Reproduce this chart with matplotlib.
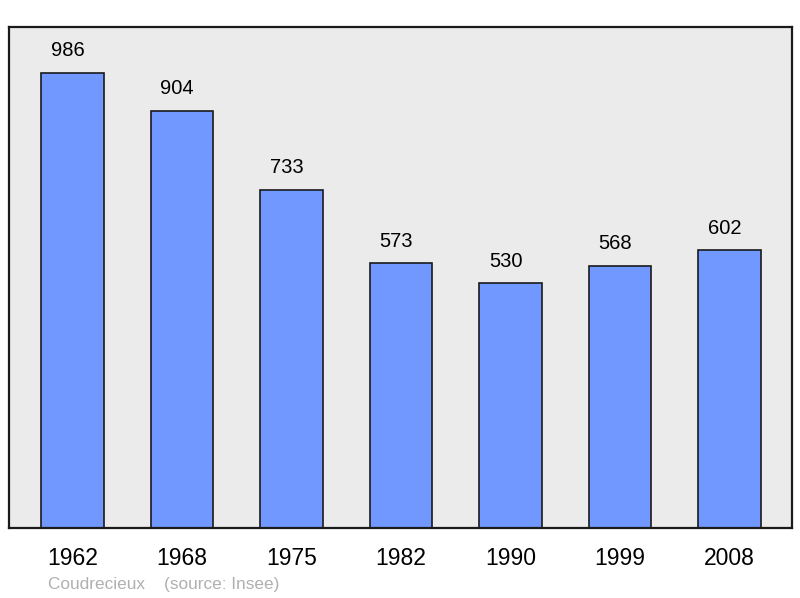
import matplotlib
matplotlib.use("Agg")
import matplotlib.pyplot as plt

years = ['1962', '1968', '1975', '1982', '1990', '1999', '2008']
population = [986, 904, 733, 573, 530, 568, 602]

fig = plt.figure(figsize=(8, 5.98), dpi=100)
ax = fig.add_axes([0.01125, 0.117, 0.97875, 0.8378])
ax.set_facecolor('#ebebeb')

x = list(range(len(years)))
ax.bar(x, population, width=0.57, color='#7098ff', edgecolor='#1a1a1a', linewidth=1.2, zorder=2)

for xi, v in zip(x, population):
    ax.annotate(str(v), (xi, v), xytext=(-3.5, 9), textcoords='offset points',
                ha='center', va='bottom', fontsize=14.5, family='Liberation Sans')

ax.set_xlim(-0.58, 6.57)
ax.set_ylim(0, 1085)
ax.set_xticks(x)
ax.set_xticklabels(years, fontsize=16.5, family='Liberation Sans')
ax.tick_params(axis='x', length=0, pad=14)
ax.set_yticks([])
for s in ax.spines.values():
    s.set_linewidth(1.6)
    s.set_color('#1a1a1a')

fig.text(48/800, 1 - 584/598, 'Coudrecieux    (source: Insee)', fontsize=12.4,
         color='#b0b0b0', family='Liberation Sans', va='center')

fig.savefig('out.png', dpi=100)
